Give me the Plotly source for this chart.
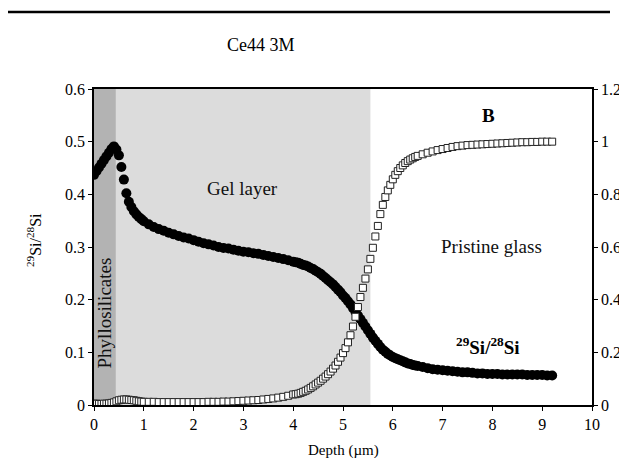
import plotly.graph_objects as go

depth = [0.0, 0.05, 0.1, 0.15, 0.2, 0.25, 0.3, 0.35, 0.4, 0.45, 0.5, 0.55, 0.6, 0.65, 0.7, 0.75, 0.8, 0.85, 0.9, 0.95, 1.0,
         1.1, 1.2, 1.3, 1.4, 1.5, 1.6, 1.7, 1.8, 1.9, 2.0, 2.1, 2.2, 2.3, 2.4, 2.5, 2.6, 2.7, 2.8, 2.9, 3.0,
         3.1, 3.2, 3.3, 3.4, 3.5, 3.6, 3.7, 3.8, 3.9, 4.0,
         4.05, 4.1, 4.15, 4.2, 4.25, 4.3, 4.35, 4.4, 4.45, 4.5, 4.55, 4.6, 4.65, 4.7, 4.75, 4.8, 4.85, 4.9, 4.95, 5.0,
         5.05, 5.1, 5.15, 5.2, 5.25, 5.3, 5.35, 5.4, 5.45, 5.5, 5.55, 5.6, 5.65, 5.7, 5.75, 5.8, 5.85, 5.9, 5.95, 6.0,
         6.05, 6.1, 6.15, 6.2, 6.25, 6.3, 6.35, 6.4, 6.45, 6.5,
         6.6, 6.7, 6.8, 6.9, 7.0, 7.1, 7.2, 7.3, 7.4, 7.5, 7.6, 7.7, 7.8, 7.9, 8.0,
         8.1, 8.2, 8.3, 8.4, 8.5, 8.6, 8.7, 8.8, 8.9, 9.0, 9.1, 9.2]

si_ratio = [0.437, 0.444, 0.451, 0.458, 0.465, 0.472, 0.479, 0.486, 0.491, 0.485, 0.474, 0.452, 0.428, 0.402, 0.386, 0.376, 0.368, 0.362, 0.357, 0.353, 0.349,
            0.343, 0.338, 0.334, 0.331, 0.327, 0.324, 0.321, 0.318, 0.316, 0.313, 0.310, 0.307, 0.305, 0.303, 0.300, 0.298, 0.297, 0.295, 0.293, 0.291,
            0.290, 0.288, 0.287, 0.285, 0.283, 0.281, 0.279, 0.277, 0.275, 0.272,
            0.271, 0.270, 0.268, 0.266, 0.265, 0.263, 0.260, 0.258, 0.255, 0.252, 0.249, 0.245, 0.241, 0.237, 0.233, 0.229, 0.224, 0.219, 0.214, 0.208,
            0.203, 0.197, 0.191, 0.184, 0.177, 0.170, 0.163, 0.156, 0.149, 0.142, 0.135, 0.128, 0.122, 0.116, 0.110, 0.105, 0.101, 0.097, 0.094, 0.091,
            0.089, 0.087, 0.085, 0.083, 0.081, 0.079, 0.078, 0.076, 0.075, 0.074,
            0.072, 0.070, 0.068, 0.067, 0.066, 0.065, 0.064, 0.063, 0.062, 0.062, 0.061, 0.060, 0.060, 0.059, 0.059,
            0.059, 0.058, 0.058, 0.058, 0.058, 0.058, 0.057, 0.057, 0.057, 0.057, 0.056, 0.056]

boron = [0.005, 0.005, 0.004, 0.004, 0.005, 0.005, 0.006, 0.008, 0.010, 0.014, 0.018, 0.020, 0.021, 0.021, 0.020, 0.019, 0.018, 0.016, 0.014, 0.013, 0.012,
         0.012, 0.012, 0.011, 0.011, 0.011, 0.011, 0.011, 0.011, 0.011, 0.011, 0.011, 0.011, 0.012, 0.012, 0.012, 0.013, 0.013, 0.014, 0.015, 0.016,
         0.017, 0.018, 0.019, 0.021, 0.023, 0.025, 0.028, 0.031, 0.035, 0.040,
         0.041, 0.043, 0.046, 0.050, 0.054, 0.059, 0.065, 0.071, 0.078, 0.085, 0.092, 0.100, 0.108, 0.117, 0.127, 0.138, 0.150, 0.164, 0.180, 0.197,
         0.216, 0.238, 0.265, 0.298, 0.335, 0.372, 0.410, 0.445, 0.480, 0.515, 0.555, 0.597, 0.640, 0.680, 0.725, 0.760, 0.790, 0.815, 0.836, 0.857,
         0.874, 0.888, 0.900, 0.910, 0.919, 0.926, 0.932, 0.937, 0.942, 0.946,
         0.952, 0.958, 0.963, 0.968, 0.972, 0.976, 0.980, 0.983, 0.985, 0.987, 0.988, 0.989, 0.990, 0.991, 0.992,
         0.993, 0.994, 0.995, 0.996, 0.997, 0.998, 0.998, 0.999, 0.999, 1.0, 1.0, 1.0]

phyllo_end = 0.44
gel_end = 5.55

x_ticks = [0, 1, 2, 3, 4, 5, 6, 7, 8, 9, 10]
y_ticks = [0, 0.1, 0.2, 0.3, 0.4, 0.5, 0.6]
y_tick_text = ["0", "0.1", "0.2", "0.3", "0.4", "0.5", "0.6"]
y2_ticks = [0, 0.2, 0.4, 0.6, 0.8, 1.0, 1.2]
y2_tick_text = ["0", "0.2", "0.4", "0.6", "0.8", "1", "1.2"]

# page has an 8px body margin; offset the figure so the plot lands where the reference has it
OFF = 8
W, H = 627 - OFF, 466 - 2 * OFF
L, T = 94 - OFF, 89 - OFF
R = W - (592 - OFF)
B = H - (405 - OFF)
PW, PH = W - L - R, H - T - B

def px(x):
    return (x - OFF - L) / PW

def py(y):
    return (H - B - (y - OFF)) / PH

FONT = "Liberation Serif, Times New Roman, serif"

fig = go.Figure()

fig.add_trace(go.Scatter(
    x=depth, y=boron, mode="markers", yaxis="y2",
    marker=dict(symbol="square", size=7, color="white", line=dict(color="#222", width=1)),
    showlegend=False))
fig.add_trace(go.Scatter(
    x=depth, y=si_ratio, mode="markers",
    marker=dict(symbol="circle", size=10, color="black", line=dict(width=0)),
    showlegend=False))

shapes = [
    dict(type="rect", xref="x", yref="paper", x0=0, x1=phyllo_end, y0=0, y1=1,
         fillcolor="#b3b3b3", line=dict(width=0), layer="below"),
    dict(type="rect", xref="x", yref="paper", x0=phyllo_end, x1=gel_end, y0=0, y1=1,
         fillcolor="#dcdcdc", line=dict(width=0), layer="below"),
    dict(type="line", xref="paper", yref="paper", x0=px(8), x1=px(610), y0=py(12), y1=py(12),
         line=dict(color="black", width=2.5)),
]

def label(text, x, y, size, xref="paper", angle=0, color="black"):
    return dict(text=text, x=x, y=y, xref=xref, yref="paper", showarrow=False,
                xanchor="center", yanchor="middle", textangle=angle,
                font=dict(size=size, family=FONT, color=color))

ann = [
    label("Ce44 3M", px(261), py(45), 18),
    label("Phyllosilicates", 0.21, py(313), 19, xref="x", angle=-90, color="#111"),
    label("Gel layer", px(242), py(188), 19, color="#111"),
    label("Pristine glass", px(491), py(246), 19, color="#111"),
    label("<b>B</b>", px(488), py(115), 19),
    label("<b><sup>29</sup>Si/<sup>28</sup>Si</b>", px(488), py(346), 19),
    label("<sup>29</sup>Si/<sup>28</sup>Si", px(34), py(240), 16, angle=-90),
    label("Depth (µm)", px(343), py(450), 15),
]

axis_common = dict(showline=True, linecolor="black", linewidth=1.5, ticks="outside", ticklen=4,
                   tickcolor="black", showgrid=False, zeroline=False, automargin=False,
                   tickfont=dict(size=16, family=FONT))

fig.update_layout(
    width=W, height=H, autosize=False,
    margin=dict(l=L, r=R, t=T, b=B, autoexpand=False),
    paper_bgcolor="white", plot_bgcolor="white",
    font=dict(family=FONT, size=15, color="black"),
    shapes=shapes, annotations=ann,
    xaxis=dict(range=[0, 10], tickvals=x_ticks, mirror=True, **axis_common),
    yaxis=dict(range=[0, 0.6], tickvals=y_ticks, ticktext=y_tick_text, **axis_common),
    yaxis2=dict(range=[0, 1.2], tickvals=y2_ticks, ticktext=y2_tick_text, overlaying="y", side="right",
                **axis_common),
)

fig.write_html("out.html")
